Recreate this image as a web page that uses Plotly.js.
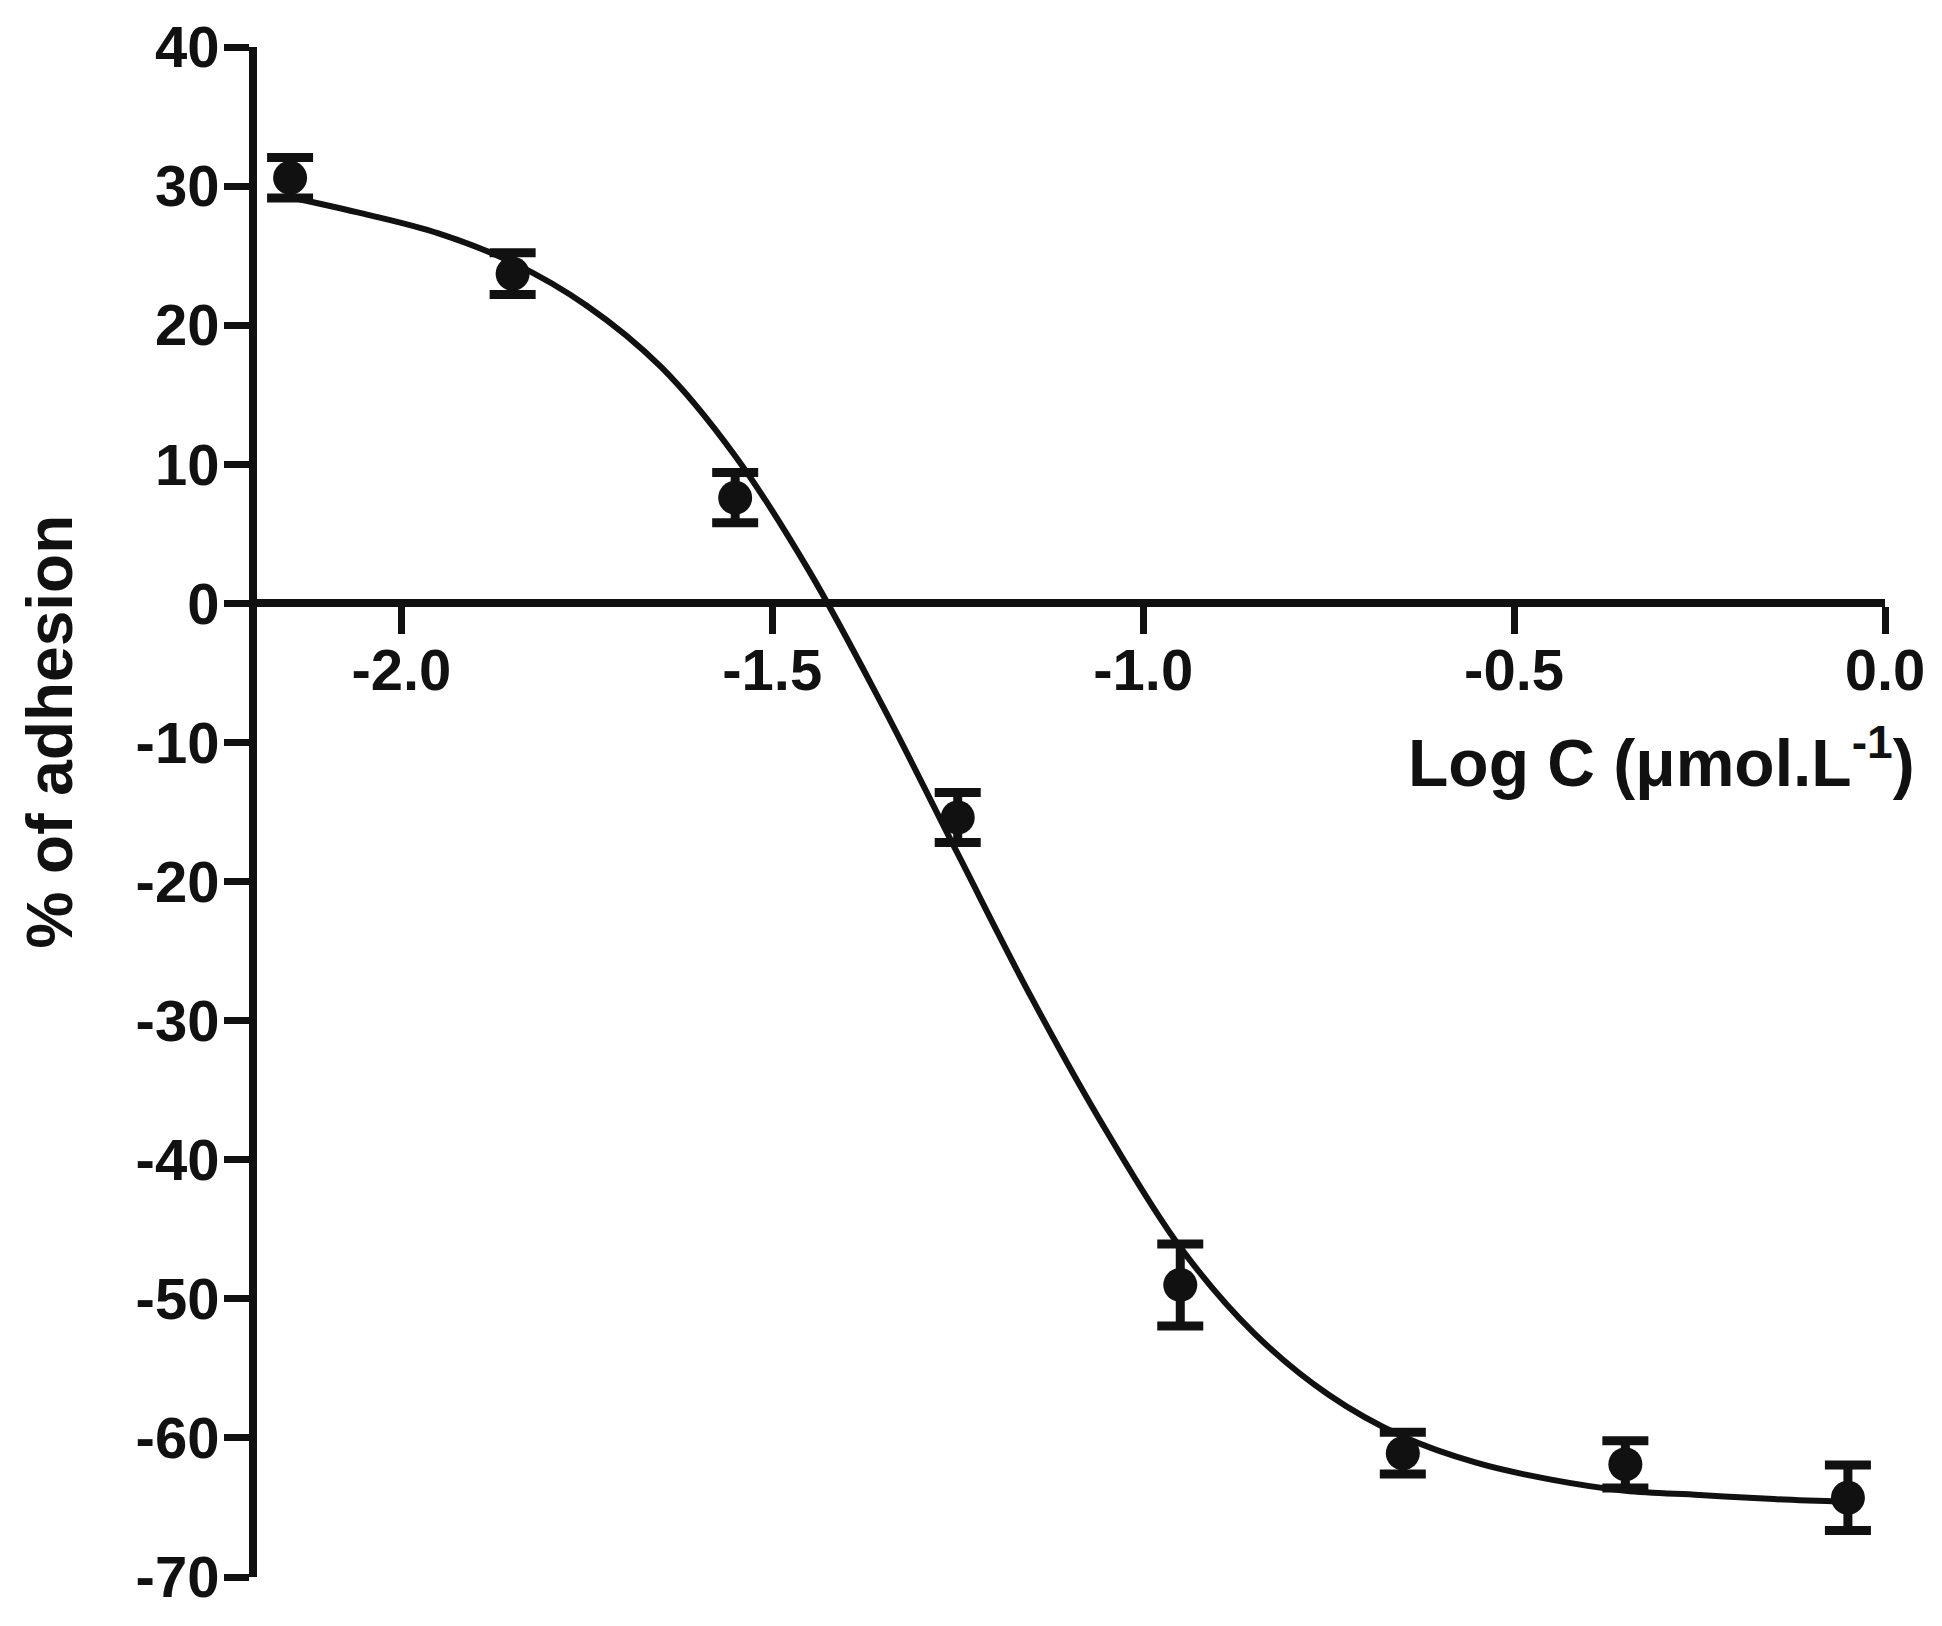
<!DOCTYPE html>
<html>
<head>
<meta charset="utf-8">
<script src="https://cdn.plot.ly/plotly-3.0.1.min.js"></script>
<style>
  body { margin: 0; background: #fff; }
  #grafica { width: 1942px; height: 1626px; }
</style>
</head>
<body>
<div id="grafica"></div>
<script>
// measured points (log concentration vs % of adhesion, mean +/- error)
const logC = [-2.15, -1.85, -1.55, -1.25, -0.95, -0.65, -0.35, -0.05];
const adhesion = [30.6, 23.7, 7.6, -15.4, -49.0, -61.1, -61.9, -64.3];
const adhesionErr = [1.45, 1.5, 1.8, 1.8, 2.95, 1.5, 1.7, 2.35];

// fitted curve
const fitX = [-2.15, -2.05, -1.95, -1.85, -1.75, -1.65, -1.55, -1.45, -1.35, -1.25, -1.15,
  -1.05, -0.95, -0.85, -0.75, -0.65, -0.55, -0.45, -0.35, -0.25, -0.15, -0.05];
const fitY = [29.2, 28.0, 26.6, 24.5, 21.4, 17.0, 10.6, 2.3, -7.5, -18.0, -28.4,
  -37.9, -46.3, -52.5, -56.9, -59.9, -61.8, -63.0, -63.8, -64.1, -64.4, -64.6];

const xTickVals = [-2.0, -1.5, -1.0, -0.5, 0.0];
const xTickText = ["-2.0", "-1.5", "-1.0", "-0.5", "0.0"];
const yTickVals = [40, 30, 20, 10, 0, -10, -20, -30, -40, -50, -60, -70];
const yTickText = ["40", "30", "20", "10", "0", "-10", "-20", "-30", "-40", "-50", "-60", "-70"];

const negro = "#111111";
const fuente = { family: "'Liberation Sans', Arial, sans-serif", color: negro, weight: 700 };

const tracePuntos = {
  x: logC,
  y: adhesion,
  type: "scatter",
  mode: "markers",
  marker: { color: negro, size: 34, symbol: "circle" },
  error_y: {
    type: "data",
    array: adhesionErr,
    visible: true,
    color: negro,
    thickness: 9,
    width: 23
  },
  hoverinfo: "x+y"
};

const traceCurva = {
  x: fitX,
  y: fitY,
  type: "scatter",
  mode: "lines",
  line: { color: negro, width: 6, shape: "spline", smoothing: 1 },
  hoverinfo: "skip"
};

const layout = {
  width: 1942,
  height: 1626,
  margin: { l: 257, r: 57, t: 47, b: 49 },
  paper_bgcolor: "#ffffff",
  plot_bgcolor: "#ffffff",
  showlegend: false,
  xaxis: {
    range: [-2.1946, 0],
    anchor: "free",
    position: 70 / 110,
    showline: true,
    linewidth: 8,
    linecolor: negro,
    ticks: "outside",
    ticklen: 27,
    tickwidth: 7,
    tickcolor: negro,
    tickvals: xTickVals,
    ticktext: xTickText,
    ticklabelstandoff: -14,
    tickfont: Object.assign({ size: 58 }, fuente),
    showgrid: false,
    zeroline: false
  },
  yaxis: {
    range: [-70, 40],
    showline: true,
    linewidth: 8,
    linecolor: negro,
    ticks: "outside",
    ticklen: 25,
    tickwidth: 7,
    tickcolor: negro,
    tickvals: yTickVals,
    ticktext: yTickText,
    ticklabelstandoff: -7,
    tickfont: Object.assign({ size: 58 }, fuente),
    showgrid: false,
    zeroline: false
  },
  annotations: [
    {
      text: "Log C (μmol.L<sup>-1</sup>)",
      xref: "paper",
      yref: "y",
      x: 1.0196,
      y: -11.1,
      xanchor: "right",
      yanchor: "middle",
      showarrow: false,
      font: Object.assign({ size: 66 }, fuente)
    },
    {
      text: "% of adhesion",
      xref: "paper",
      yref: "y",
      x: -0.127,
      y: -9.2,
      xanchor: "center",
      yanchor: "middle",
      textangle: -90,
      showarrow: false,
      font: Object.assign({ size: 64 }, fuente)
    }
  ]
};

Plotly.newPlot("grafica", [tracePuntos, traceCurva], layout, { staticPlot: true });
</script>
</body>
</html>
